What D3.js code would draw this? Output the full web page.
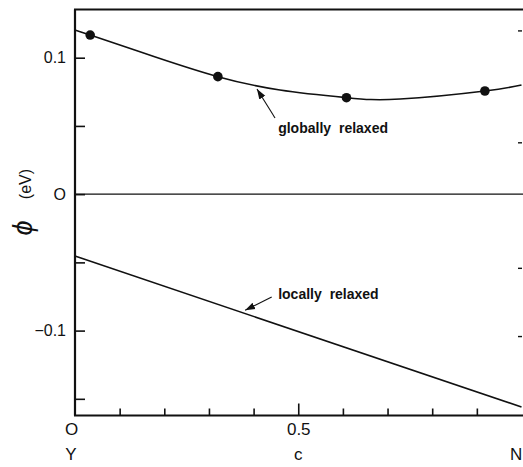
<!DOCTYPE html>
<html>
<head>
<meta charset="utf-8">
<script src="https://cdn.jsdelivr.net/npm/d3@7"></script>
<style>
  html, body { margin: 0; padding: 0; background: #fff; }
  svg { display: block; }
  text { font-family: "Liberation Sans", Arial, sans-serif; fill: #111; }
</style>
</head>
<body>
<svg id="chart" width="523" height="467"></svg>
<script>
// ---- data ----
const globalDotsC   = [0.034, 0.32, 0.608, 0.918];
const globalDotsPhi = [0.1166, 0.0861, 0.0707, 0.0756];
const globalCurveC   = [0, 0.034, 0.18, 0.32, 0.459, 0.608, 0.728, 0.918, 1.0];
const globalCurvePhi = [0.1203, 0.1166, 0.1005, 0.0861, 0.0763, 0.0707, 0.0697, 0.0756, 0.0800];
const localC   = [0, 1.0];
const localPhi = [-0.0454, -0.156];
const xMajorTicks = [0, 0.5];
const xMajorLabels = ["O", "0.5"];
const xMinorTicks = [0.1, 0.2, 0.3, 0.4, 0.6, 0.7, 0.8, 0.9];
const xEndLabels = ["Y", "c", "N"];
const xEndLabelPos = [0, 0.5, 0.988];
const yMajorTicks = [0.1, 0, -0.1];
const yMajorLabels = ["0.1", "O", "\u22120.1"];
const yMinorTicks = [0.05, -0.05, -0.15];
const yRightTicks = [0.12, 0.038, -0.054, -0.104];
const annotations = [
  { text: "globally relaxed", tip: [0.4076, 0.0770], tail: [0.448, 0.0558], at: [0.455, 0.0447] },
  { text: "locally relaxed",  tip: [0.381, -0.0851], tail: [0.4405, -0.0754], at: [0.455, -0.0770] }
];

// ---- layout ----
const svg = d3.select("#chart");
const x = d3.scaleLinear().domain([0, 1]).range([75, 521.5]);
const y = d3.scaleLinear().domain([-0.1, 0.1]).range([330.6, 57.7]);
const yTop = 9.5, yBot = 415.5, xRight = 523;

// frame
svg.append("line").attr("x1", x(0)).attr("x2", x(0)).attr("y1", yTop).attr("y2", yBot)
  .attr("stroke", "#111").attr("stroke-width", 2.2);
svg.append("line").attr("x1", x(0) - 1).attr("x2", xRight).attr("y1", yBot).attr("y2", yBot)
  .attr("stroke", "#111").attr("stroke-width", 2.2);
svg.append("line").attr("x1", x(0) - 1).attr("x2", xRight).attr("y1", yTop).attr("y2", yTop)
  .attr("stroke", "#111").attr("stroke-width", 2.2);

// zero line
svg.append("line").attr("x1", x(0)).attr("x2", xRight).attr("y1", y(0)).attr("y2", y(0))
  .attr("stroke", "#111").attr("stroke-width", 1.3);

// y axis (left), inward ticks
const yAxisMajor = d3.axisLeft(y).tickValues(yMajorTicks).tickSize(-10).tickPadding(9)
  .tickFormat((d, i) => yMajorLabels[i]);
const gy = svg.append("g").attr("transform", `translate(${x(0)},0)`).call(yAxisMajor);
gy.select(".domain").remove();
gy.selectAll(".tick line").attr("stroke", "#111").attr("stroke-width", 1.6);
gy.selectAll(".tick text").style("font-size", "16px").attr("fill", "#111");

const yAxisMinor = d3.axisLeft(y).tickValues(yMinorTicks).tickSize(-10).tickFormat("");
const gy2 = svg.append("g").attr("transform", `translate(${x(0)},0)`).call(yAxisMinor);
gy2.select(".domain").remove();
gy2.selectAll(".tick line").attr("stroke", "#111").attr("stroke-width", 1.6);

// right ticks
const yAxisRight = d3.axisRight(y).tickValues(yRightTicks).tickSize(-4).tickFormat("");
const gyr = svg.append("g").attr("transform", `translate(${xRight - 1},0)`).call(yAxisRight);
gyr.select(".domain").remove();
gyr.selectAll(".tick line").attr("stroke", "#111").attr("stroke-width", 1.4);

// x axis, inward ticks
const xAxisMajor = d3.axisBottom(x).tickValues(xMajorTicks).tickSize(-12).tickPadding(7)
  .tickFormat((d, i) => xMajorLabels[i]);
const gx = svg.append("g").attr("transform", `translate(0,${yBot})`).call(xAxisMajor);
gx.select(".domain").remove();
gx.selectAll(".tick line").attr("stroke", "#111").attr("stroke-width", 1.6)
  .attr("opacity", (d) => d === 0 ? 0 : 1);
gx.selectAll(".tick text").style("font-size", "17px").attr("fill", "#111")
  .attr("dx", (d) => d === 0 ? -4 : 0);

const xAxisMinor = d3.axisBottom(x).tickValues(xMinorTicks).tickSize(-7).tickFormat("");
const gx2 = svg.append("g").attr("transform", `translate(0,${yBot})`).call(xAxisMinor);
gx2.select(".domain").remove();
gx2.selectAll(".tick line").attr("stroke", "#111").attr("stroke-width", 1.6);

// end labels Y c N
svg.selectAll("text.endlab").data(xEndLabels).enter().append("text")
  .attr("class", "endlab")
  .attr("x", (d, i) => x(xEndLabelPos[i]) + (i === 0 ? -4 : 0))
  .attr("y", 460)
  .attr("text-anchor", "middle")
  .style("font-size", "17px")
  .text(d => d);

// y axis title
const yt = svg.append("g").attr("transform", "translate(32,205) rotate(-90)");
yt.append("text").attr("x", -23).attr("y", 0).attr("text-anchor", "middle")
  .style("font-size", "27px").style("font-style", "italic").text("\u03d5");
yt.append("text").attr("x", 21).attr("y", -1).attr("text-anchor", "middle")
  .style("font-size", "16px").text("(eV)");

// curves
svg.append("path")
  .datum(globalCurveC.map((c, i) => [c, globalCurvePhi[i]]))
  .attr("d", d3.line().x(d => x(d[0])).y(d => y(d[1])).curve(d3.curveNatural))
  .attr("fill", "none").attr("stroke", "#111").attr("stroke-width", 1.6);
svg.append("path")
  .datum(localC.map((c, i) => [c, localPhi[i]]))
  .attr("d", d3.line().x(d => x(d[0])).y(d => y(d[1])))
  .attr("fill", "none").attr("stroke", "#111").attr("stroke-width", 1.6);

// dots
svg.selectAll("circle.dot").data(globalDotsC.map((c, i) => [c, globalDotsPhi[i]]))
  .enter().append("circle").attr("class", "dot")
  .attr("cx", d => x(d[0])).attr("cy", d => y(d[1])).attr("r", 4.8).attr("fill", "#111");

// annotations
const defs = svg.append("defs");
defs.append("marker").attr("id", "ah").attr("viewBox", "0 0 10 10")
  .attr("refX", 10).attr("refY", 5).attr("markerWidth", 10).attr("markerHeight", 10)
  .attr("markerUnits", "userSpaceOnUse").attr("orient", "auto")
  .append("path").attr("d", "M0,1.5 L10,5 L0,8.5 Z").attr("fill", "#111");

annotations.forEach(a => {
  svg.append("line")
    .attr("x1", x(a.tail[0])).attr("y1", y(a.tail[1]))
    .attr("x2", x(a.tip[0])).attr("y2", y(a.tip[1]))
    .attr("stroke", "#111").attr("stroke-width", 1.1).attr("marker-end", "url(#ah)");
  svg.append("text").attr("x", x(a.at[0])).attr("y", y(a.at[1]))
    .style("font-size", "14px").style("font-weight", "bold").style("word-spacing", "4px")
    .text(a.text);
});
</script>
</body>
</html>
